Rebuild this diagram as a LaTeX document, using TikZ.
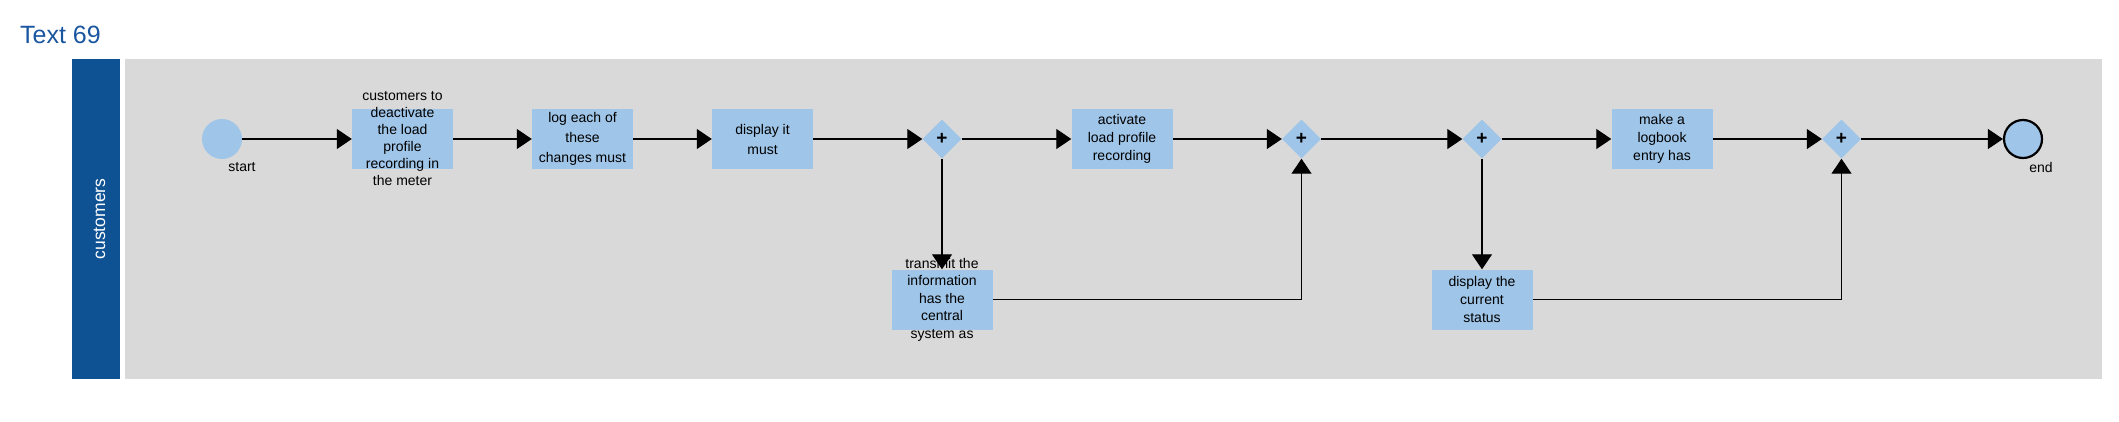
\documentclass[tikz,border=0pt]{standalone}
\usepackage{fontspec}
\setmainfont{Liberation Sans}
\usepackage{xcolor}
\usepackage{tikz}
\usetikzlibrary{shapes.geometric, positioning, arrows.meta, calc}

\definecolor{laneblue}{HTML}{0F5294}
\definecolor{titleblue}{HTML}{1A56A0}
\definecolor{taskblue}{HTML}{9FC5E8}
\definecolor{poolgray}{HTML}{D9D9D9}

\begin{document}
\begin{tikzpicture}[x=1pt, y=-1pt,
    task/.style={rectangle, fill=taskblue, minimum width=101pt, minimum height=60pt, inner sep=0pt},
    tasktext/.style={align=center, inner sep=0pt, font=\fontsize{14}{18}\selectfont},
    gateway/.style={diamond, fill=taskblue, minimum size=39pt, inner sep=0pt, font=\fontsize{19}{19}\selectfont\bfseries},
    flow/.style={line width=1.1pt, -{Triangle[length=15pt, width=20pt]}},
    eventlabel/.style={font=\fontsize{14}{17}\selectfont}]
        \useasboundingbox (0,0) rectangle (2119,421);

        % Title
        \node[anchor=base west, inner sep=0pt, text=titleblue, font=\fontsize{25}{30}\selectfont] (title) at (20,43) {Text 69};

        % Pool and lane
        \fill[laneblue] (72,59) rectangle (120,379);
        \fill[poolgray] (125,59) rectangle (2102,379);
        \node[rotate=90, text=white, inner sep=0pt, font=\fontsize{17.5}{20}\selectfont] (lane) at (99.5,219) {customers};

        % Events
        \node[circle, fill=taskblue, minimum size=40pt, inner sep=0pt] (start) at (222,139) {};
        \node[eventlabel] (startlabel) at (242,167) {start};
        \node[circle, draw, line width=2.2pt, fill=taskblue, minimum size=38pt, inner sep=0pt] (end) at (2023,139) {};
        \node[eventlabel] (endlabel) at (2041,167) {end};

        % Tasks
        \node[task, label={[tasktext, font=\fontsize{14}{17}\selectfont]center:{customers to\\deactivate\\the load\\profile\\recording in\\the meter}}] (deactivate) at (402.5,139) {};
        \node[task, label={[tasktext, font=\fontsize{14}{20}\selectfont]center:{log each of\\these\\changes must}}] (logchanges) at (582.5,139) {};
        \node[task, label={[tasktext, font=\fontsize{14}{20}\selectfont]center:{display it\\must}}] (displayit) at (762.5,139) {};
        \node[task, label={[tasktext]center:{activate\\load profile\\recording}}] (activate) at (1122,139) {};
        \node[task, label={[tasktext]center:{make a\\logbook\\entry has}}] (logbook) at (1662,139) {};
        \node[task, label={[tasktext, font=\fontsize{14}{17.5}\selectfont]center:{transmit the\\information\\has the\\central\\system as}}] (transmit) at (942,299.5) {};
        \node[task, label={[tasktext]center:{display the\\current\\status}}] (status) at (1482,299.5) {};

        % Gateways
        \node[gateway] (split1) at (942,139) {+};
        \node[gateway] (join1) at (1301.5,139) {+};
        \node[gateway] (split2) at (1482,139) {+};
        \node[gateway] (join2) at (1841.5,139) {+};

        % Sequence flows
        \draw[flow] (start) -- (deactivate);
        \draw[flow] (deactivate) -- (logchanges);
        \draw[flow] (logchanges) -- (displayit);
        \draw[flow] (displayit) -- (split1);
        \draw[flow] (split1) -- (activate);
        \draw[flow] (activate) -- (join1);
        \draw[flow] (join1) -- (split2);
        \draw[flow] (split2) -- (logbook);
        \draw[flow] (logbook) -- (join2);
        \draw[flow] (join2) -- (end);
        \draw[flow] (split1) -- (transmit);
        \draw[flow] (transmit) -| (join1);
        \draw[flow] (split2) -- (status);
        \draw[flow] (status) -| (join2);
    \end{tikzpicture}
\end{document}
